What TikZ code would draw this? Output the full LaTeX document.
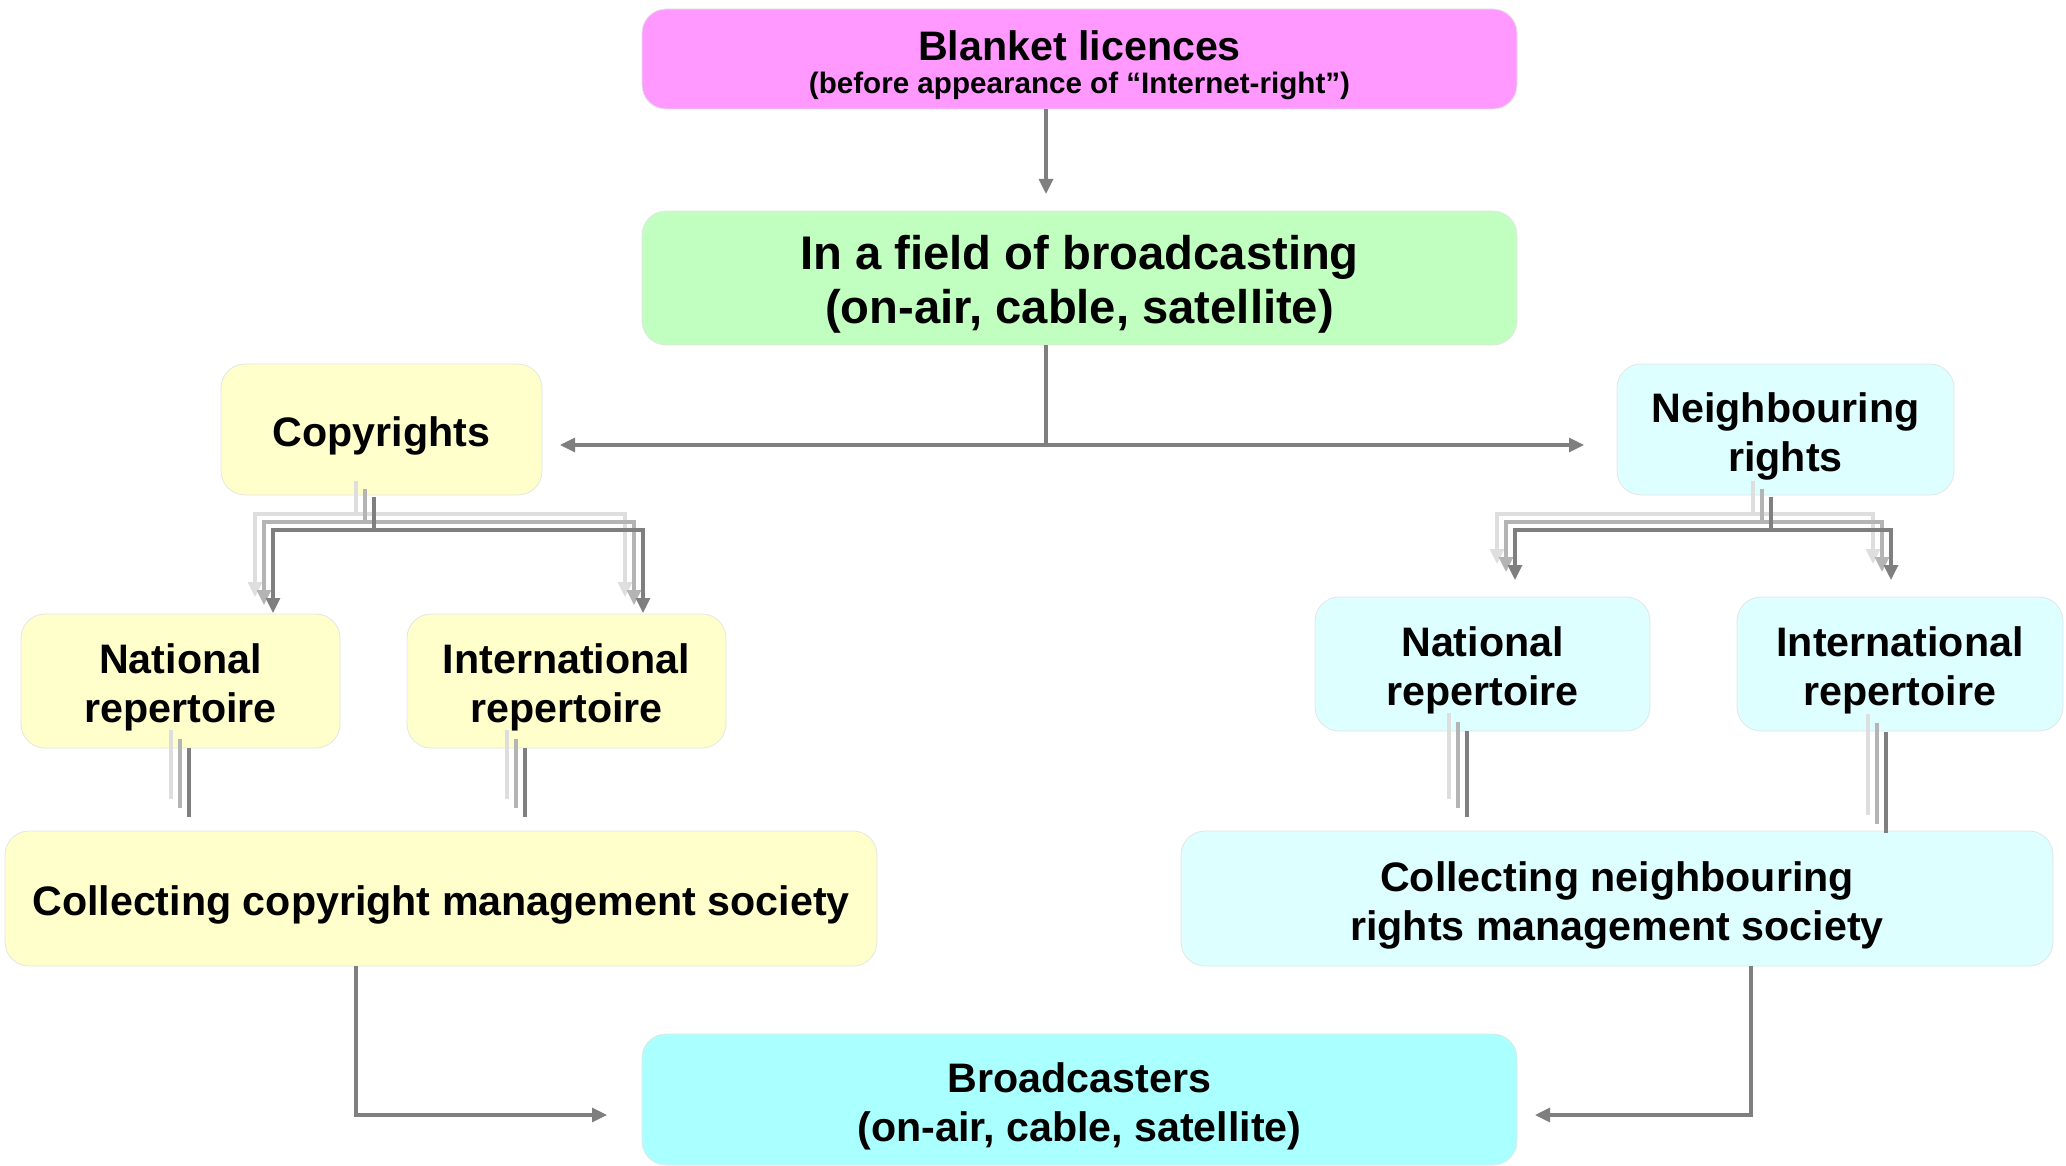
\documentclass[tikz,border=0pt]{standalone}
\usepackage{fontspec}
\setmainfont{Liberation Sans}
\usetikzlibrary{arrows.meta,calc}
\definecolor{pinkbox}{HTML}{FF99FF}
\definecolor{greenbox}{HTML}{C0FFC0}
\definecolor{yellowbox}{HTML}{FFFFCC}
\definecolor{cyanbox}{HTML}{DDFFFF}
\definecolor{bluebox}{HTML}{AAFFFF}
\definecolor{linkgray}{HTML}{7F7F7F}
\definecolor{shadeA}{HTML}{B4B4B4}
\definecolor{shadeB}{HTML}{DEDEDE}
\tikzset{
  box/.style={rounded corners=12pt, inner sep=0pt, draw=black!10, line width=0.4pt},
  boxtext/.style={inner sep=0pt, align=center, font=\bfseries\fontsize{20.6}{24.4}\selectfont},
  link/.style={draw=linkgray, line width=1.6pt},
  tip/.style={-{Triangle[length=7.5pt,width=7pt]}},
  both/.style={{Triangle[length=7.5pt,width=7pt]}-{Triangle[length=7.5pt,width=7pt]}},
}
\begin{document}
\begin{tikzpicture}[x=0.5pt,y=-0.5pt]
\useasboundingbox (0,0) rectangle (2066,1166);

% boxes
\node[box, fill=pinkbox, minimum width=437.5pt, minimum height=50pt] (blanket) at (1079.5,59) {};
\node[box, fill=greenbox, minimum width=437.5pt, minimum height=67pt] (field) at (1079.5,278) {};
\node[box, fill=yellowbox, minimum width=160.5pt, minimum height=65.5pt] (copy) at (381.5,429.5) {};
\node[box, fill=cyanbox, minimum width=168.5pt, minimum height=65.5pt] (neigh) at (1785.5,429.5) {};
\node[box, fill=yellowbox, minimum width=159.5pt, minimum height=67pt] (natC) at (180.5,681) {};
\node[box, fill=yellowbox, minimum width=159.5pt, minimum height=67pt] (intC) at (566.5,681) {};
\node[box, fill=cyanbox, minimum width=167.5pt, minimum height=67pt] (natN) at (1482.5,664) {};
\node[box, fill=cyanbox, minimum width=163pt, minimum height=67pt] (intN) at (1900,664) {};
\node[box, fill=yellowbox, minimum width=436pt, minimum height=67.5pt] (collC) at (441,898.5) {};
\node[box, fill=cyanbox, minimum width=436pt, minimum height=67.5pt] (collN) at (1617,898.5) {};
\node[box, fill=bluebox, minimum width=437.5pt, minimum height=65.5pt] (broad) at (1079.5,1099.5) {};

% box texts
\node[boxtext] (blanketT) at ([yshift=6.5pt]blanket.center) {Blanket licences};
\node[boxtext, font=\bfseries\fontsize{14.8}{18}\selectfont] (blanketS) at ([yshift=-13.5pt]blanket.center)
  {(before appearance of “Internet-right”)};
\node[boxtext, font=\bfseries\fontsize{23.6}{27}\selectfont] (fieldT) at ([yshift=-3.3pt]field.center)
  {In a field of broadcasting\\(on-air, cable, satellite)};
\node[boxtext] (copyT) at ([yshift=-3.3pt]copy.center) {Copyrights};
\node[boxtext] (neighT) at ([yshift=-3.3pt]neigh.center) {Neighbouring\\rights};
\node[boxtext] (natCT) at ([yshift=-3.3pt]natC.center) {National\\repertoire};
\node[boxtext] (intCT) at ([yshift=-3.3pt]intC.center) {International\\repertoire};
\node[boxtext] (natNT) at ([yshift=-3.3pt]natN.center) {National\\repertoire};
\node[boxtext] (intNT) at ([yshift=-3.3pt]intN.center) {International\\repertoire};
\node[boxtext] (collCT) at ([yshift=-3.3pt]collC.center) {Collecting copyright management society};
\node[boxtext] (collNT) at ([yshift=-3.3pt]collN.center) {Collecting neighbouring\\rights management society};
\node[boxtext] (broadT) at ([yshift=-3.3pt]broad.center) {Broadcasters\\(on-air, cable, satellite)};

% blanket licences -> field of broadcasting
\coordinate (t1) at (1046,194);
\draw[link, tip] (blanket.south -| t1) -- (t1);

% split towards copyrights and neighbouring rights
\coordinate (j) at (1046,445);
\coordinate (cl) at (560,445);
\coordinate (cr) at (1584,445);
\draw[link] (field.south -| j) -- (j);
\draw[link, both] (cl) -- (cr);

% shaded forks and stubs (three offset strokes, lightest first)
\foreach \k/\c in {2/shadeB,1/shadeA,0/linkgray} {
  \begin{scope}[shift={(-9*\k,-8*\k)}, line width=1.6pt]
    % copyrights fork
    \draw[\c] (374,497) -- (374,530);
    \draw[\c, tip] (374,530) -| (273,613);
    \draw[\c, tip] (374,530) -| (643,613);
    % neighbouring rights fork
    \draw[\c] (1771,497) -- (1771,530);
    \draw[\c, tip] (1771,530) -| (1515,580);
    \draw[\c, tip] (1771,530) -| (1891,580);
  \end{scope}
  \begin{scope}[shift={(-9*\k,-9*\k)}, line width=1.6pt]
    \draw[\c] (189,748) -- (189,817);
    \draw[\c] (525,748) -- (525,817);
    \draw[\c] (1467,731) -- (1467,817);
    \draw[\c] (1886,732) -- (1886,833);
  \end{scope}
}

% societies -> broadcasters
\coordinate (bl) at (356,1115);
\coordinate (blt) at (607,1115);
\coordinate (br) at (1751,1115);
\coordinate (brt) at (1535,1115);
\draw[link, tip] (collC.south -| bl) -- (bl) -- (blt);
\draw[link, tip] (collN.south -| br) -- (br) -- (brt);
\end{tikzpicture}
\end{document}
